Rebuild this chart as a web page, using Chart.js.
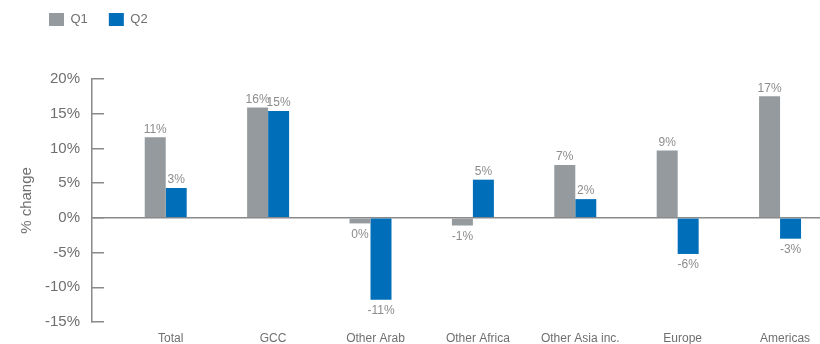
<!DOCTYPE html>
<html>
<head>
<meta charset="utf-8">
<script src="https://cdn.jsdelivr.net/npm/chart.js@4.4.1/dist/chart.umd.min.js"></script>
<style>
  html, body { margin: 0; padding: 0; background: #fff; }
  #wrap { width: 820px; height: 344px; position: relative; }
</style>
</head>
<body>
<div id="wrap"><canvas id="chart"></canvas></div>
<script>
const categories = ['Total', 'GCC', 'Other Arab', 'Other Africa', 'Other Asia inc.', 'Europe', 'Americas'];
// bar lengths as drawn (%)
const q1Values = [11.6, 15.9, -0.8, -1.1, 7.6, 9.7, 17.5];
const q2Values = [4.3, 15.4, -11.8, 5.5, 2.7, -5.2, -3.0];
// values printed on the bars (%)
const q1Labels = [11, 16, 0, -1, 7, 9, 17];
const q2Labels = [3, 15, -11, 5, 2, -6, -3];
const yTicks = [-15, -10, -5, 0, 5, 10, 15, 20];

const colorQ1 = '#949a9d';
const colorQ2 = '#006eb8';
const colorAxis = '#8a8a8a';
const colorText = '#6f6f6f';

Chart.defaults.font.family = '"Liberation Sans", Arial, sans-serif';

// value labels above / below each bar
const barLabels = {
    id: 'barLabels',
    afterDatasetsDraw(chart) {
        const ctx = chart.ctx;
        ctx.save();
        ctx.font = '12px "Liberation Sans", Arial, sans-serif';
        ctx.fillStyle = '#8c8c8c';
        ctx.textAlign = 'center';
        [q1Labels, q2Labels].forEach((labels, d) => {
            chart.getDatasetMeta(d).data.forEach((bar, i) => {
                const v = chart.data.datasets[d].data[i].y;
                if (v >= 0) {
                    ctx.textBaseline = 'bottom';
                    ctx.fillText(labels[i] + '%', bar.x, bar.y - 2);
                } else {
                    ctx.textBaseline = 'top';
                    ctx.fillText(labels[i] + '%', bar.x, bar.y + 5);
                }
            });
        });
        ctx.restore();
    }
};

// legend sits in the top-left corner, left of the plot
const legendOffset = {
    id: 'legendOffset',
    afterLayout(chart) {
        chart.legend.left = 28;
        chart.legend.top = -8;
    }
};

new Chart(document.getElementById('chart'), {
    type: 'bar',
    data: {
        datasets: [
            {
                label: 'Q1',
                data: q1Values.map((v, i) => ({ x: i, y: v })),
                backgroundColor: colorQ1,
                borderWidth: 0
            },
            {
                label: 'Q2',
                data: q2Values.map((v, i) => ({ x: i, y: v })),
                backgroundColor: colorQ2,
                borderWidth: 0
            }
        ]
    },
    options: {
        responsive: true,
        maintainAspectRatio: false,
        animation: false,
        categoryPercentage: 0.41,
        barPercentage: 1.0,
        layout: { padding: { top: 35, left: 0, right: 0, bottom: 0 } },
        plugins: {
            tooltip: { enabled: false },
            legend: {
                align: 'start',
                labels: {
                    boxWidth: 15,
                    boxHeight: 13,
                    padding: 21,
                    color: colorText,
                    font: { size: 13 }
                }
            }
        },
        scales: {
            x: {
                type: 'linear',
                offset: false,
                min: -0.72,
                max: 6.39,
                afterBuildTicks: s => { s.ticks = categories.map((c, i) => ({ value: i })); },
                afterFit: s => { s.height = 22; },
                ticks: {
                    padding: 9,
                    labelOffset: 5,
                    autoSkip: false,
                    maxRotation: 0,
                    color: colorText,
                    font: { size: 12 },
                    callback: v => categories[v]
                },
                grid: { display: false, drawTicks: false },
                border: { display: false }
            },
            y: {
                min: -15,
                max: 20,
                afterBuildTicks: s => { s.ticks = yTicks.map(v => ({ value: v })); },
                afterFit: s => {
                    s.width = 92;
                    s.paddingTop = 0;
                    s.paddingBottom = 0;
                },
                ticks: {
                    padding: 24,
                    color: colorText,
                    font: { size: 15 },
                    callback: v => v + '%'
                },
                grid: {
                    drawTicks: true,
                    tickLength: -12,
                    color: c => (c.tick && c.tick.value === 0) ? colorAxis : 'rgba(0,0,0,0)',
                    lineWidth: 1.5,
                    tickColor: colorAxis,
                    tickWidth: 1.5
                },
                border: { color: colorAxis, width: 1.5 },
                title: {
                    display: true,
                    text: '% change',
                    color: colorText,
                    font: { size: 15 },
                    padding: { top: 18, bottom: 0 }
                }
            }
        }
    },
    plugins: [barLabels, legendOffset]
});
</script>
</body>
</html>
